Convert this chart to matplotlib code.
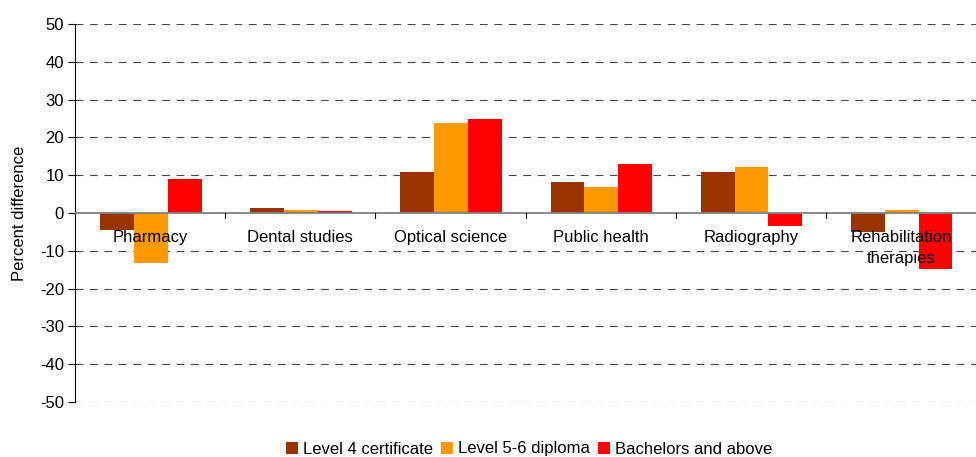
import matplotlib.pyplot as plt
import numpy as np

plt.rcParams['font.family'] = ['Liberation Sans', 'DejaVu Sans']
plt.rcParams['axes.unicode_minus'] = False

categories = ["Pharmacy", "Dental studies", "Optical science", "Public health",
              "Radiography", "Rehabilitation\ntherapies"]
level4 = [-4.5, 1.2, 10.8, 8.2, 10.8, -5.0]
level56 = [-13.3, 0.9, 23.8, 6.9, 12.2, 0.9]
bachelors = [9.0, 0.5, 24.9, 13.0, -3.4, -14.8]
series_names = ["Level 4 certificate", "Level 5-6 diploma", "Bachelors and above"]
colors = ["#993300", "#FF9900", "#FF0000"]

fig = plt.figure(figsize=(9.76, 4.57), dpi=100)
ax = fig.add_axes([75/976, 1 - 402/457, 901/976, 378/457])

x = np.arange(len(categories))
w = 0.225
for i, (vals, name, c) in enumerate(zip([level4, level56, bachelors], series_names, colors)):
    ax.bar(x + (i - 1) * w + 0.005, vals, w, color=c, label=name, zorder=3)

ax.set_xlim(-0.5, len(categories) - 0.5)
ax.set_ylim(-50, 50)
ax.set_yticks(range(-50, 51, 10))
ax.tick_params(axis='y', labelsize=12, length=5, direction='out', pad=3)

# dashed gridlines except zero
for yv in range(-50, 51, 10):
    if yv != 0:
        ax.axhline(yv, color='#444444', lw=0.8, ls=(0, (7, 6)), zorder=1)
ax.axhline(0, color='#808080', lw=1.3, zorder=4)

# category boundary ticks on zero line
for b in np.arange(0.5, len(categories) - 0.5, 1):
    ax.plot([b, b], [0, -1.2], color='black', lw=0.8, zorder=4)

ax.set_xticks([])
for xi, lab in zip(x, categories):
    ax.text(xi, -4.6, lab, ha='center', va='top', fontsize=12, zorder=5,
            linespacing=1.45)

for s in ['top', 'right', 'bottom']:
    ax.spines[s].set_visible(False)
ax.spines['left'].set_color('black')
ax.set_ylabel("Percent difference", fontsize=12, labelpad=9)

fig.legend(loc='center', bbox_to_anchor=(529/976, 1 - 449/457), ncol=3, frameon=False,
           fontsize=12, handlelength=0.7, handleheight=0.7, handletextpad=0.3,
           columnspacing=0.5)

fig.savefig("out.png", dpi=100)
